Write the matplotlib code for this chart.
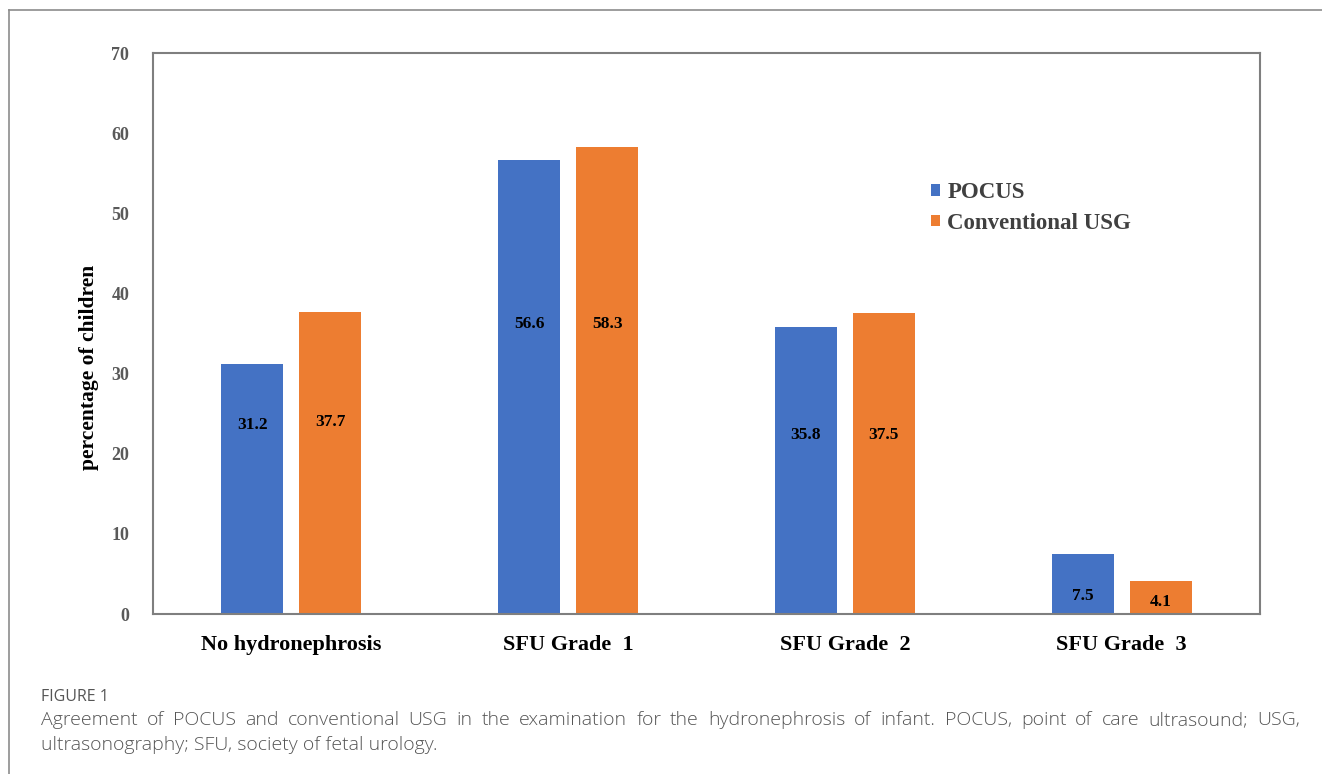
import numpy as np
import matplotlib
matplotlib.use("Agg")
import matplotlib.pyplot as plt
from matplotlib.lines import Line2D

categories = ["No hydronephrosis", "SFU Grade  1", "SFU Grade  2", "SFU Grade  3"]
pocus = [31.2, 56.6, 35.8, 7.5]
conventional = [37.7, 58.3, 37.5, 4.1]
series_names = ["POCUS", "Conventional USG"]
yticks = [0, 10, 20, 30, 40, 50, 60, 70]

# heights where the value labels sit inside the bars
pocus_label_y = [23.6, 36.2, 22.3, 2.3]
conventional_label_y = [24.0, 36.2, 22.3, 1.5]

caption_title = "FIGURE 1"
caption_lines = [
    "Agreement of POCUS and conventional USG in the examination for the hydronephrosis of infant. "
    "POCUS, point of care ultrasound; USG,",
    "ultrasonography; SFU, society of fetal urology.",
]

BLUE = "#4472C4"
ORANGE = "#ED7D31"
GREY = "#7f7f7f"
SERIF = ["Liberation Serif", "DejaVu Serif"]
SANS = ["Open Sans", "Lato", "DejaVu Sans"]

fig = plt.figure(figsize=(13.22, 7.74), dpi=100)
ax = fig.add_axes([0.1157, 0.2067, 0.8374, 0.7248])

x = np.arange(len(categories))
w = 0.224
off = 0.141
ax.bar(x - off, pocus, w, color=BLUE, label=series_names[0])
ax.bar(x + off, conventional, w, color=ORANGE, label=series_names[1])

for i in range(len(categories)):
    ax.text(x[i] - off, pocus_label_y[i], f"{pocus[i]:.1f}", ha="center", va="center",
            fontsize=12.5, fontweight="bold", family=SERIF, color="black")
    ax.text(x[i] + off, conventional_label_y[i], f"{conventional[i]:.1f}", ha="center", va="center",
            fontsize=12.5, fontweight="bold", family=SERIF, color="black")

ax.set_xlim(-0.5, len(categories) - 0.5)
ax.set_ylim(0, 70)
ax.set_yticks(yticks)
ax.set_yticklabels([str(t) for t in yticks], fontsize=13, fontweight="bold",
                   family=SERIF, color="#595959")
ax.set_xticks(x)
ax.set_xticklabels(categories, fontsize=16, fontweight="bold", family=SERIF, color="black")
ax.tick_params(axis="both", length=0)
ax.tick_params(axis="y", pad=17)
ax.tick_params(axis="x", pad=15)
for s in ax.spines.values():
    s.set_color(GREY)
    s.set_linewidth(1.5)
ax.set_ylabel("percentage of children", fontsize=15.5, fontweight="bold", family=SERIF,
              color="black")
ax.yaxis.set_label_coords(-0.049, 0.44)

leg = ax.legend(loc="upper left", bbox_to_anchor=(0.684, 0.806), frameon=False,
                prop={"family": SERIF, "weight": "bold", "size": 16.5},
                handlelength=0.42, handleheight=0.42, handletextpad=0.3,
                labelspacing=0.4, labelcolor="#404040")

# page frame: top and left rules
fig.add_artist(Line2D([9 / 1322, 1.0], [1 - 10 / 774, 1 - 10 / 774], color="#8c8c8c", lw=1.2))
fig.add_artist(Line2D([9 / 1322, 9 / 1322], [0, 1 - 10 / 774], color="#8c8c8c", lw=1.2))

fig.text(41 / 1322, 1 - 697 / 774, caption_title, family=SANS, fontsize=11.5,
         color="#555555", va="center")

# caption, first line justified between the margins
left_px, right_px = 41, 1300
renderer = fig.canvas.get_renderer()
words = caption_lines[0].split(" ")
arts = [fig.text(0, 1 - 720 / 774, wd, family=SANS, fontsize=14, color="#555555",
                 fontweight="light", va="center") for wd in words]
widths = [a.get_window_extent(renderer).width for a in arts]
gap = (right_px - left_px - sum(widths)) / (len(words) - 1)
pos = left_px
for a, wd in zip(arts, widths):
    a.set_x(pos / 1322)
    pos += wd + gap
fig.text(left_px / 1322, 1 - 745 / 774, caption_lines[1], family=SANS, fontsize=14,
         color="#555555", fontweight="light", va="center")

fig.savefig("out.png", dpi=100)
